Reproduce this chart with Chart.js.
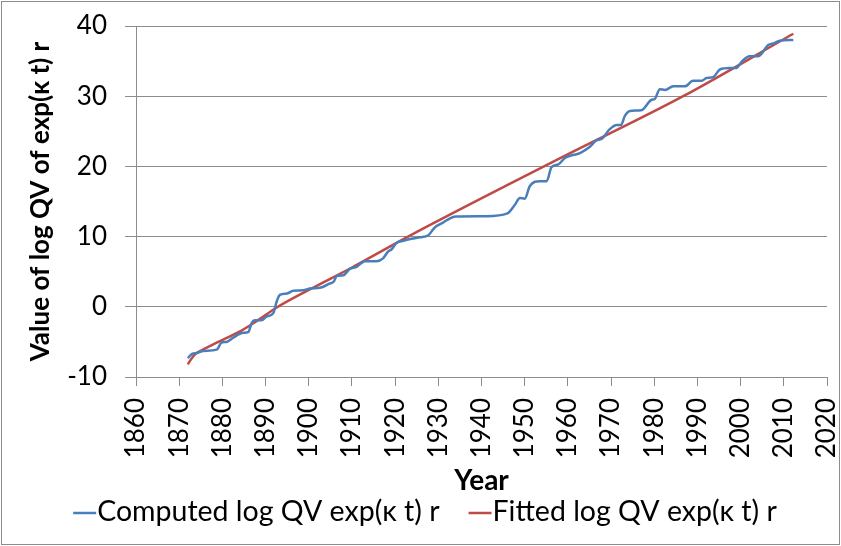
<!DOCTYPE html>
<html>
<head>
<meta charset="utf-8">
<script src="https://cdn.jsdelivr.net/npm/chart.js@4.4.1/dist/chart.umd.min.js"></script>
<style>
  html, body { margin: 0; padding: 0; background: #fff; }
  #wrap { width: 841px; height: 546px; position: relative; }
</style>
</head>
<body>
<div id="wrap"><canvas id="chart" width="841" height="546"></canvas></div>
<script>
// values
var computedYears = [1872, 1873, 1874, 1875.6, 1878.7, 1879.8, 1881, 1882.5, 1884.8, 1886, 1886.8, 1887.5, 1889.1, 1890.2, 1891.8, 1892.6, 1893.3, 1895, 1896.4, 1898.7, 1900.3, 1902.6, 1904.8, 1905.8, 1906.5, 1908, 1909.5, 1911.1, 1913, 1915.7, 1917.2, 1918.4, 1919.2, 1920.3, 1921.9, 1923.8, 1925.7, 1927.7, 1928.9, 1929.6, 1931.1, 1932.7, 1934, 1941, 1946, 1947.7, 1948.9, 1950, 1951.2, 1953.5, 1955.1, 1956.2, 1957.8, 1959.3, 1960.5, 1962.8, 1965.1, 1966.6, 1967.8, 1969.7, 1971.3, 1972.3, 1973.2, 1974.4, 1977, 1979.4, 1980.1, 1981.3, 1982.5, 1984.4, 1987.1, 1989, 1991, 1992.1, 1993.6, 1995.2, 1997.5, 1999, 2000.2, 2002.1, 2004.1, 2006.4, 2007.5, 2009.1, 2012.2];
var computedValues = [-7.3, -6.7, -6.6, -6.3, -6.1, -5.1, -5.0, -4.4, -3.7, -3.6, -2.3, -1.9, -1.9, -1.4, -0.9, 0.8, 1.7, 1.9, 2.3, 2.35, 2.6, 2.7, 3.3, 3.6, 4.4, 4.5, 5.4, 5.7, 6.5, 6.5, 6.9, 7.9, 8.2, 9.1, 9.4, 9.7, 9.9, 10.2, 11.1, 11.5, 12.0, 12.6, 12.85, 12.9, 13.3, 14.5, 15.5, 15.4, 17.2, 17.9, 17.9, 19.9, 20.3, 21.2, 21.5, 21.9, 22.8, 23.7, 23.9, 25.3, 25.9, 25.9, 27.2, 27.9, 28.0, 29.5, 29.6, 31.0, 30.9, 31.4, 31.4, 32.2, 32.2, 32.6, 32.7, 33.8, 34.0, 34.0, 34.9, 35.7, 35.7, 37.3, 37.5, 37.9, 38.0];

var fittedYears = [1872, 1872.5, 1873.3, 1874, 1876.3, 1880.2, 1884.1, 1887.9, 1892.6, 1900, 1910, 1923, 1958, 1986.7, 2012.2];
var fittedValues = [-8.2, -7.7, -7.0, -6.6, -5.85, -4.67, -3.5, -2.06, -0.1, 2.4, 5.6, 10.0, 21.1, 30.0, 38.9];

var seriesNames = ["Computed log QV exp(\u03ba t) r", "Fitted log QV exp(\u03ba t) r"];
var seriesColors = ['#4a7ebb', '#be4b48'];
var xTitle = "Year";
var yTitle = "Value of log QV of exp(\u03ba t) r";

function toPoints(xs, ys) {
  var pts = [];
  for (let i = 0; i < xs.length; i++) {
    pts.push({ x: xs[i], y: ys[i] });
  }
  return pts;
}

var fontName = "Lato, 'Liberation Sans', sans-serif";
var gridColor = '#8c8c8c';

// outer frame like the original picture
var framePlugin = {
  id: 'frame',
  afterDraw: function(chart) {
    var ctx = chart.ctx;
    ctx.save();
    ctx.strokeStyle = '#8c8c8c';
    ctx.lineWidth = 1;
    ctx.strokeRect(1.5, 1.5, chart.width - 3, chart.height - 3);
    ctx.restore();
  }
};

// legend drawn under the x axis, short line then the name, Excel style
var legendPlugin = {
  id: 'lineLegend',
  afterDraw: function(chart) {
    var ctx = chart.ctx;
    ctx.save();
    ctx.font = '28.5px ' + fontName;
    ctx.textBaseline = 'middle';
    var lineLen = 23, gap = 1, between = 29;
    var widths = seriesNames.map(function(n) { return ctx.measureText(n).width; });
    var total = 0;
    widths.forEach(function(w, i) { total += lineLen + gap + w + (i > 0 ? between : 0); });
    var x = 425 - total / 2;
    var y = 512;
    chart.data.datasets.forEach(function(ds, i) {
      ctx.strokeStyle = ds.borderColor;
      ctx.lineWidth = 2.5;
      ctx.beginPath();
      ctx.moveTo(x, y + 1);
      ctx.lineTo(x + lineLen, y + 1);
      ctx.stroke();
      x += lineLen + gap;
      ctx.fillStyle = '#000';
      ctx.fillText(ds.label, x, y);
      x += widths[i] + between;
    });
    ctx.restore();
  }
};

new Chart(document.getElementById('chart'), {
  type: 'line',
  data: {
    datasets: [{
      label: seriesNames[0],
      data: toPoints(computedYears, computedValues),
      borderColor: seriesColors[0],
      borderWidth: 2.5,
      pointRadius: 0,
      cubicInterpolationMode: 'monotone'
    }, {
      label: seriesNames[1],
      data: toPoints(fittedYears, fittedValues),
      borderColor: seriesColors[1],
      borderWidth: 2.5,
      pointRadius: 0,
      cubicInterpolationMode: 'monotone'
    }]
  },
  options: {
    responsive: false,
    animation: false,
    layout: { padding: { top: 26, right: 14, left: 10, bottom: 46 } },
    plugins: {
      legend: { display: false },
      tooltip: { enabled: false }
    },
    scales: {
      x: {
        type: 'linear',
        min: 1860,
        max: 2020,
        afterFit: function(scale) {
          scale.height = 123;
          scale.paddingLeft = 0;
          scale.paddingRight = 0;
        },
        ticks: {
          stepSize: 10,
          minRotation: 90,
          maxRotation: 90,
          padding: 12,
          color: '#000',
          font: { family: fontName, size: 26 },
          callback: function(value) { return String(value); }
        },
        grid: { drawOnChartArea: false, drawTicks: true, tickLength: 9, color: gridColor },
        border: { color: gridColor },
        title: {
          display: true,
          text: xTitle,
          color: '#000',
          padding: { top: 0, bottom: 2 },
          font: { family: fontName, size: 28, weight: 'bold' }
        }
      },
      y: {
        min: -10,
        max: 40,
        afterFit: function(scale) {
          scale.width = 126;
          scale.paddingTop = 0;
          scale.paddingBottom = 0;
        },
        ticks: {
          stepSize: 10,
          padding: 18,
          color: '#000',
          font: { family: fontName, size: 26 }
        },
        grid: { color: gridColor, tickLength: 11 },
        border: { color: gridColor },
        title: {
          display: true,
          text: yTitle,
          color: '#000',
          padding: { top: 15, bottom: 0 },
          font: { family: fontName, size: 26, weight: 'bold' }
        }
      }
    }
  },
  plugins: [framePlugin, legendPlugin]
});
</script>
</body>
</html>
